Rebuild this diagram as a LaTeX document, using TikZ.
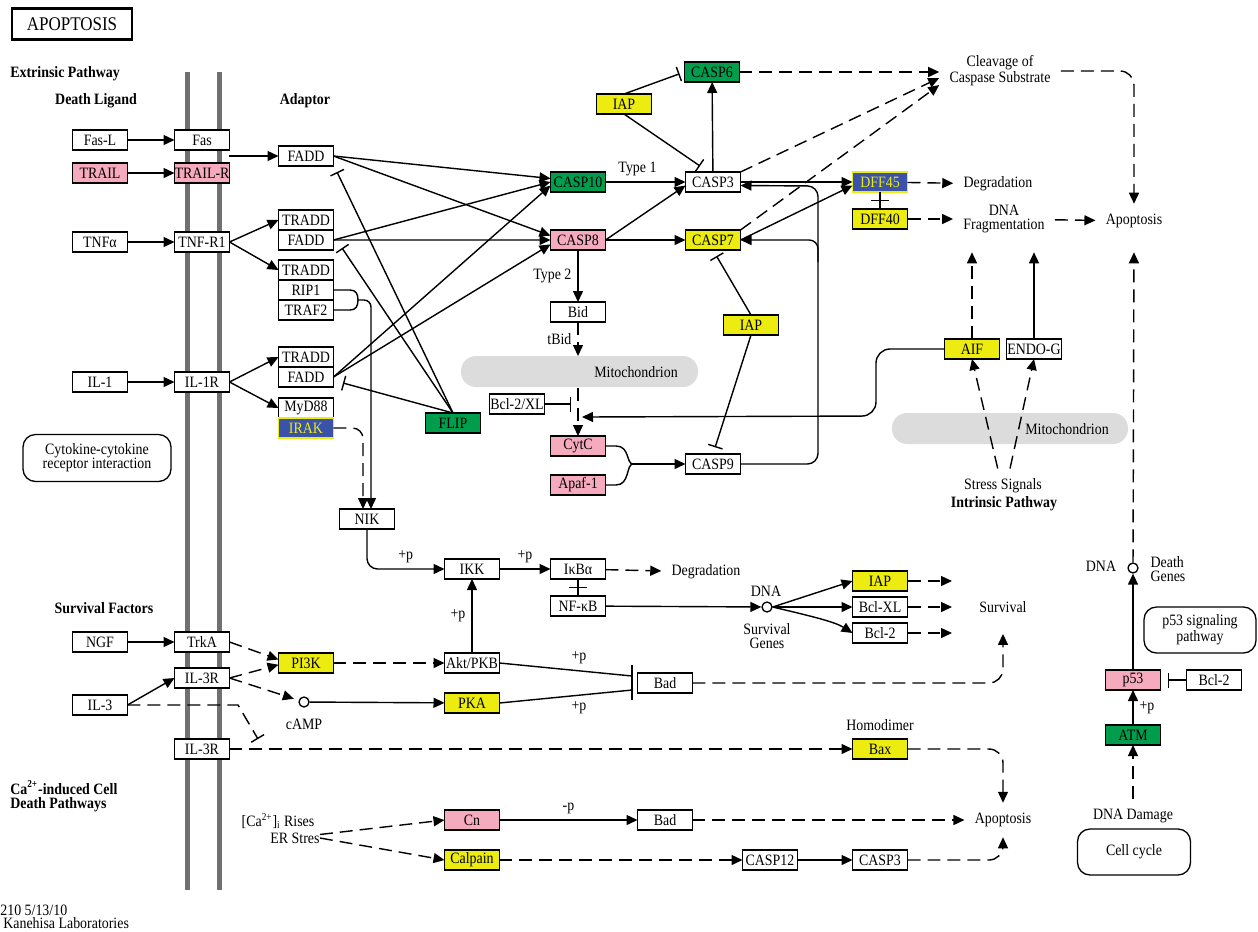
\documentclass[tikz,border=0pt]{standalone}
\usepackage{fontspec}
\setmainfont{Liberation Serif}[FakeStretch=0.88]
\usetikzlibrary{positioning, arrows.meta, calc}
\definecolor{kpink}{RGB}{245,170,190}
\definecolor{kyellow}{RGB}{236,236,16}
\definecolor{kgreen}{RGB}{0,158,76}
\definecolor{kblue}{RGB}{58,82,168}
\definecolor{kmem}{RGB}{112,112,112}
\definecolor{kmito}{RGB}{220,220,220}
\newcommand\kfont{\fontsize{9}{8}\selectfont}
\tikzset{
  gene/.style={draw, line width=0.75pt, outer sep=0pt, inner sep=0pt,
    minimum width=1.1cm, minimum height=0.4cm, fill=white},
  pinkgene/.style={gene, fill=kpink},
  yellowgene/.style={gene, fill=kyellow},
  greengene/.style={gene, fill=kgreen},
  bluegene/.style={gene, fill=kblue, draw=kyellow, text=kyellow},
  cpd/.style={circle, draw, line width=0.75pt, minimum size=0.2cm, inner sep=0pt},
  mapbox/.style={draw, line width=0.75pt, rounded corners=0.25cm, align=center},
  txt/.style={inner sep=0.2cm, align=center},
  hdr/.style={inner sep=0pt, font=\kfont\bfseries},
  act/.style={line width=0.8pt, -{Triangle[length=0.22cm, width=0.2cm]}},
  dact/.style={act, dash pattern=on 0.26cm off 0.14cm},
  inh/.style={line width=0.8pt, -{Bar[width=0.3cm, line width=0.8pt]}},
  dinh/.style={inh, dash pattern=on 0.26cm off 0.14cm},
  link/.style={line width=0.8pt},
  membrane/.style={line width=0.1cm, draw=kmem},
  mito/.style={fill=kmito, rounded corners=0.3cm}
}
\begin{document}
\begin{tikzpicture}[x=0.02cm, y=-0.02cm, font=\kfont]
\useasboundingbox (0,0) rectangle (1258,931);
\draw[membrane] (187,72) -- (187,890) (219,72) -- (219,890);
\fill[mito] (461,356) rectangle (698,387);
\fill[mito] (892,413) rectangle (1128,444);

\node[draw, line width=1.6pt, minimum width=2.4cm, minimum height=0.62cm, font=\fontsize{11}{12}\selectfont] (title) at (72,24) {APOPTOSIS};
\node[hdr, anchor=west] (extr) at (10,74) {Extrinsic Pathway};
\node[hdr] (dlig) at (96,101) {Death Ligand};
\node[hdr] (adap) at (305,101) {Adaptor};
\node[hdr] (survf) at (104,608) {Survival Factors};
\node[hdr, anchor=west, align=left] (cadp) at (10,796) {Ca\textsuperscript{2+}-induced Cell\\Death Pathways};
\node[hdr] (intr) at (1004,504) {Intrinsic Pathway};

\node[gene] (fasl) at (100,140) {Fas-L};
\node[pinkgene] (trail) at (100,173) {TRAIL};
\node[gene] (fas) at (202,140) {Fas};
\node[pinkgene] (trailr) at (202,173) {TRAIL-R};
\node[gene] (fadda) at (306,156) {FADD};
\node[gene] (tradda) at (306,220) {TRADD};
\node[gene, below=0pt of tradda] (faddb) {FADD};
\node[gene] (tnfa) at (100,242) {TNFα};
\node[gene] (tnfr) at (202,242) {TNF-R1};
\node[gene] (traddc) at (306,270) {TRADD};
\node[gene, below=0pt of traddc] (rip) {RIP1};
\node[gene, below=0pt of rip] (traf) {TRAF2};
\node[gene] (il1) at (100,382) {IL-1};
\node[gene] (il1r) at (202,382) {IL-1R};
\node[gene] (traddd) at (306,357) {TRADD};
\node[gene, below=0pt of traddd] (faddd) {FADD};
\node[gene] (myd) at (306,408) {MyD88};
\node[bluegene, below=0pt of myd] (irak) {IRAK};
\node[gene] (nik) at (367,519) {NIK};
\node[mapbox, minimum width=2.96cm, minimum height=0.94cm] (cyto) at (97,458) {Cytokine-cytokine\\receptor interaction};
\node[greengene] (flip) at (453,423) {FLIP};
\node[greengene] (casp10) at (578,182) {CASP10};
\node[pinkgene] (casp8) at (578,240) {CASP8};
\node[gene] (casp3) at (713,182) {CASP3};
\node[yellowgene] (casp7) at (713,240) {CASP7};
\node[greengene] (casp6) at (712,72) {CASP6};
\node[yellowgene] (iapa) at (624,104) {IAP};
\node[gene] (bid) at (578,312) {Bid};
\node[gene] (bcl2xl) at (517,404) {Bcl-2/XL};
\node[pinkgene] (cytc) at (578,446) {CytC};
\node[pinkgene] (apaf) at (578,485) {Apaf-1};
\node[gene] (casp9) at (713,464) {CASP9};
\node[yellowgene] (iapb) at (751,325) {IAP};
\node[bluegene] (dff45) at (880,182) {DFF45};
\node[yellowgene] (dff40) at (880,219) {DFF40};
\node[yellowgene] (aif) at (972,349) {AIF};
\node[gene] (endog) at (1034,349) {ENDO-G};
\node[gene] (ikk) at (472,569) {IKK};
\node[gene] (ikba) at (578,569) {IκBα};
\node[gene] (nfkb) at (578,606) {NF-κB};
\node[yellowgene] (iapc) at (880,581) {IAP};
\node[gene] (bclxl) at (880,607) {Bcl-XL};
\node[gene] (bcl2a) at (880,633) {Bcl-2};
\node[gene] (akt) at (472,663) {Akt/PKB};
\node[yellowgene] (pka) at (472,703) {PKA};
\node[gene] (bada) at (665,683) {Bad};
\node[gene] (ngf) at (100,642) {NGF};
\node[gene] (trka) at (202,642) {TrkA};
\node[gene] (il3ra) at (202,678) {IL-3R};
\node[gene] (il3) at (100,705) {IL-3};
\node[gene] (il3rb) at (202,749) {IL-3R};
\node[yellowgene] (pi3k) at (306,663) {PI3K};
\node[yellowgene] (bax) at (880,749) {Bax};
\node[pinkgene] (cn) at (472,820) {Cn};
\node[gene] (badb) at (665,820) {Bad};
\node[yellowgene] (calpain) at (472,860) {Calpain};
\node[gene] (casp12) at (770,860) {CASP12};
\node[gene] (casp3b) at (880,860) {CASP3};
\node[pinkgene] (p53) at (1133,680) {p53};
\node[gene] (bcl2b) at (1214,680) {Bcl-2};
\node[greengene] (atm) at (1133,735) {ATM};
\node[mapbox, minimum width=2.24cm, minimum height=0.92cm] (p53map) at (1200,630) {p53 signaling\\pathway};
\node[mapbox, minimum width=2.26cm, minimum height=0.92cm] (cellcyc) at (1134,852) {Cell cycle};

\node[cpd] (dnaa) at (767,607) {};
\node[cpd] (dnab) at (1133,568) {};
\node[cpd] (camp) at (304,702) {};

\node[txt] (cleave) at (1000,71) {Cleavage of\\Caspase Substrate};
\node[txt] (degra) at (998,184) {Degradation};
\node[txt] (dnafrag) at (1004,219) {DNA\\Fragmentation};
\node[txt] (apopa) at (1134,221) {Apoptosis};
\node (mitoa) at (636,372) {Mitochondrion};
\node (mitob) at (1067,429) {Mitochondrion};
\node[txt] (stress) at (1003,486) {Stress Signals};
\node[txt] (degrb) at (706,572) {Degradation};
\node (dnaalbl) at (766,591) {DNA};
\node[align=center] (survg) at (767,636) {Survival\\Genes};
\node[txt] (survival) at (1003,607) {Survival};
\node (dnablbl) at (1101,566) {DNA};
\node[align=left] (deathg) at (1168,569) {Death\\Genes};
\node (homod) at (880,725) {Homodimer};
\node[txt] (apopb) at (1003,820) {Apoptosis};
\node[txt] (dnadmg) at (1133,816) {DNA Damage};
\node[inner sep=0pt] (carise) at (278,821) {[Ca\textsuperscript{2+}]\textsubscript{i} Rises};
\node[inner sep=0pt] (erst) at (295,838) {ER Stres};
\node (camplbl) at (304,724) {cAMP};
\node[anchor=west, inner sep=0pt] (ver) at (0,910) {210 5/13/10};
\node[anchor=west, inner sep=0pt] (lab) at (3,923) {Kanehisa Laboratories};

\coordinate (fl1) at (337,172);
\coordinate (fl2) at (342,248);
\coordinate (fl3) at (343,383);
\coordinate (ripj) at (358,300);
\coordinate (nika) at (371,509);
\coordinate (nikb) at (363,509);
\coordinate (c3bar) at (700,166);
\coordinate (c9b) at (818,262);
\coordinate (aifin) at (582,417);
\coordinate (cj) at (633,464);
\coordinate (ikbm) at ($(ikba.south)!0.5!(nfkb.north)$);
\coordinate (dffm) at ($(dff45.south)!0.5!(dff40.north)$);
\coordinate (iapcend) at (952,581);
\coordinate (bclxlend) at (952,607);
\coordinate (bcl2aend) at (952,633);
\coordinate (bia) at (632,676);
\coordinate (bib) at (632,690);
\coordinate (il3bar) at (258,739);

\draw[act] (fasl) -- (fas);
\draw[act] (trail) -- (trailr);
\draw[act] (fas.south east |- fadda) -- (fadda);
\draw[act] (tnfa) -- (tnfr);
\draw[act] (tnfr.east) -- (tradda.west);
\draw[act] (tnfr.east) -- (traddc.west);
\draw[act] (il1) -- (il1r);
\draw[act] (il1r.east) -- (traddd.west);
\draw[act] (il1r.east) -- (myd.west);
\draw[act] (fadda.east) -- ([yshift=2pt]casp10.west);
\draw[act] (fadda.east) -- ([yshift=2.5pt]casp8.west);
\draw[act] (faddb.east) -- (casp10.west);
\draw[act] (faddb.east) -- (casp8.west);
\draw[act] (faddd.east) -- ([yshift=-2pt]casp10.west);
\draw[act] (faddd.east) -- ([yshift=-2.5pt]casp8.west);
\draw[inh] (flip.north) -- (fl1);
\draw[inh] (flip.north) -- (fl2);
\draw[inh] (flip.north) -- (fl3);
\draw[link] (rip.east) -- (350,290) .. controls (356,290) and (358,294) .. (ripj);
\draw[link] (traf.east) -- (350,310) .. controls (356,310) and (358,306) .. (ripj);
\draw[act, rounded corners=4] (ripj) -- (ripj -| nika) -- (nika);
\draw[dact, rounded corners=6] (irak.east) -| (nikb);
\draw[act, rounded corners=6] (nik.south) |- node[pos=0.75, above] {+p} (ikk.west);
\draw[act] (ikk) -- node[above] {+p} (ikba);
\draw[dact] (ikba) -- (degrb);
\draw[link] (ikba) -- (nfkb);
\draw[link] ([xshift=-0.18cm]ikbm) -- ([xshift=0.18cm]ikbm);
\draw[act] (nfkb) -- (dnaa);
\draw[act] (dnaa.east) -- (iapc.west);
\draw[act] (dnaa.east) -- (bclxl.west);
\draw[act] (dnaa.east) .. controls (815,617) and (835,622) .. (bcl2a.west);
\draw[dact] (iapc) -- (iapcend);
\draw[dact] (bclxl) -- (bclxlend);
\draw[dact] (bcl2a) -- (bcl2aend);

\draw[act] (casp10) -- node[above, pos=0.4] {Type 1} (casp3);
\draw[act] (casp8.east) -- ([yshift=-2pt]casp3.west);
\draw[act] (casp8) -- (casp7);
\draw[act] (casp8) -- node[left] {Type 2} (bid);
\draw[act] (casp3) -- (casp6);
\draw[inh, shorten >=3pt] (iapa.north) -- (casp6.west);
\draw[inh] (iapa.south) -- (c3bar);
\draw[dact] (casp6) -- (casp6 -| cleave.west);
\draw[dact] (casp3.north east) -- ([yshift=-4pt]cleave.west);
\draw[dact] (casp7.north east) -- ([yshift=-8pt]cleave.west);
\draw[act] (casp3) -- (dff45);
\draw[act] (casp7.east) -- ([yshift=-2pt]dff45.west);
\draw[link] (dff45) -- (dff40);
\draw[link] ([xshift=-0.18cm]dffm) -- ([xshift=0.18cm]dffm);
\draw[dact] (dff45) -- (degra);
\draw[dact] (dff40) -- (dnafrag);
\draw[dact] (dnafrag) -- (apopa);
\draw[dact, rounded corners=8] (cleave.east) -| (apopa.north);
\draw[act, rounded corners=6] (casp9.east) -- (818,464) -- (818,186) -- ([yshift=-2pt]casp3.east);
\draw[act, rounded corners=5] (c9b) |- (casp7.east);
\draw[inh, shorten >=4pt] (iapb.north) -- (casp7.south);
\draw[inh, shorten >=4pt] (iapb.south) -- (casp9.north);

\draw[dact] (bid) -- node[left] {tBid} (bid.south |- 0,356);
\draw[dact] (bid.south |- 0,388) -- (cytc);
\draw[inh, shorten >=4pt] (bcl2xl) -- (bcl2xl -| cytc);
\draw[act, rounded corners=8] (aif.west) -- (876,349) -- (876,416) -- (aifin);
\draw[link] (cytc.east) -- (616,446) .. controls (630,446) and (626,464) .. (cj);
\draw[link] (apaf.east) -- (616,485) .. controls (630,485) and (626,464) .. (cj);
\draw[act] (cj) -- (casp9);

\draw[dact, shorten >=0.18cm] (aif) -- (aif |- dnafrag.south);
\draw[act, shorten >=0.18cm] (endog) -- (endog |- dnafrag.south);
\draw[dact] ([xshift=-3pt]stress.north) -- (aif.south);
\draw[dact] ([xshift=4pt]stress.north) -- (endog.south);
\draw[dact, shorten >=0.28cm] (dnab) -- (apopa.south);
\draw[act] (p53) -- (dnab);
\draw[inh, shorten >=4pt] (bcl2b) -- (p53);
\draw[act] (atm) -- node[right] {+p} (p53);
\draw[dact] (dnadmg) -- (atm);

\draw[act] (ngf) -- (trka);
\draw[dact] (trka.east) -- ([yshift=2pt]pi3k.west);
\draw[dact] (il3ra.east) -- ([yshift=-1pt]pi3k.west);
\draw[dact, shorten >=0.1cm] (il3ra.east) -- (camp);
\draw[act] (il3.east) -- (il3ra.west);
\draw[dinh] (il3.east) -- (238,705) -- (il3bar);
\draw[dact] (pi3k) -- (akt);
\draw[act] (camp) -- (pka);
\draw[act] (akt) -- node[left] {+p} (ikk);
\draw[link] (akt.east) -- node[above, pos=0.6] {+p} (bia);
\draw[link] (pka.east) -- node[below, pos=0.6] {+p} (bib);
\draw[line width=0.8pt] ([yshift=0.22cm]bia) -- ([yshift=-0.2cm]bib);
\draw[dact, rounded corners=8, shorten >=0.22cm] (bada.east) -| (survival.south);
\draw[dact] (il3rb) -- (bax);
\draw[dact, rounded corners=8] (bax.east) -| (apopb.north);

\draw[dact] ([yshift=2pt]erst.east) -- (cn.west);
\draw[dact] (erst.east) -- (calpain.west);
\draw[act] (cn) -- node[above] {-p} (badb);
\draw[dact] (badb) -- (apopb);
\draw[dact] (calpain) -- (casp12);
\draw[act] (casp12) -- (casp3b);
\draw[dact, rounded corners=8] (casp3b.east) -| (apopb.south);
\end{tikzpicture}
\end{document}
